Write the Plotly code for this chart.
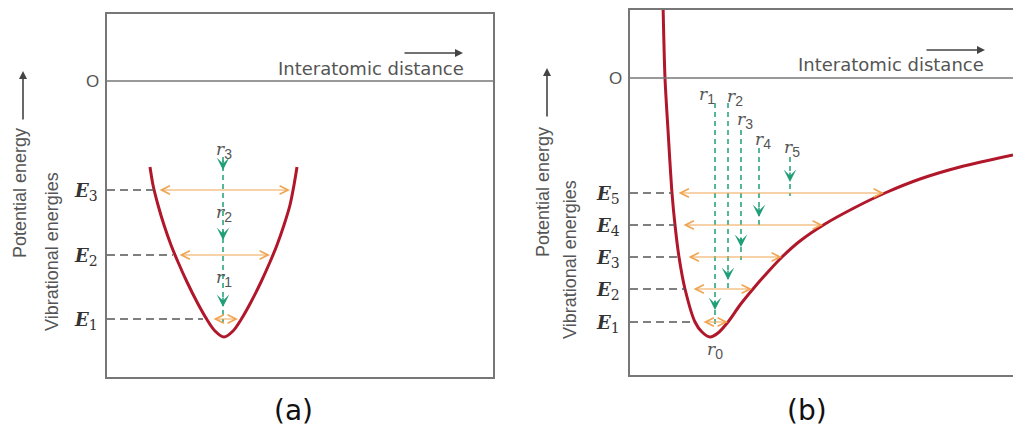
import plotly.graph_objects as go

W, H = 1013, 433

# ---------------- Panel (a): symmetric (harmonic-like) well ----------------
a_curve_d = [43, 46, 51, 57, 64, 71, 80, 90, 99, 108, 117, 126, 135, 144, 154, 163, 170, 177, 183, 187, 190]
a_curve_E = [-86, -104, -124, -144, -164, -181, -201, -221, -237, -250, -256, -250, -237, -221, -201, -181, -164, -144, -124, -104, -86]
a_level_names = ["1", "2", "3"]
a_level_E = [-238, -174, -109]
a_level_curve_left = [96, 66, 47]
a_osc_left = [105, 71, 51]
a_osc_right = [131, 163, 183]
a_r_d = 116
a_r_top, a_r_bottom = -76, -241
a_r_tips = [-226, -159, -89]
a_r_names = ["1", "2", "3"]
a_r_label_E = [-197, -132, -69]

# ---------------- Panel (b): anharmonic (Morse-like) well ----------------
b_curve_d = [33, 35, 38, 42, 45, 49, 55, 65, 72, 80, 88, 98, 110, 123, 137, 152, 170, 195, 224, 255, 290, 330, 383]
b_curve_E = [75, 0, -52, -115, -147, -179, -211, -244, -254, -259, -255, -244, -227, -211, -195, -179, -163, -146, -130, -115, -101, -89, -77]
b_level_names = ["1", "2", "3", "4", "5"]
b_level_E = [-244, -211, -179, -147, -115]
b_level_curve_left = [64, 55, 49, 45, 42]
b_osc_left = [72, 62, 57, 52, 47]
b_osc_right = [98, 122, 152, 193, 254]
b_r_names = ["1", "2", "3", "4", "5"]
b_r_d = [85, 98, 111, 129, 160]
b_r_top = [-25, -25, -52, -70, -79]
b_r_bottom = [-247, -214, -182, -150, -118]
b_r_tips = [-232, -202, -169, -139, -104]
b_r_label_d = [77, 105, 115, 133, 162]
b_r_label_E = [-17, -19, -42, -62, -70]
b_r0_d, b_r0_E = 85, -272

RED = "#b0172a"
ORANGE = "#f0a552"
GREEN = "#1f9e77"
GRAY = "#555555"
AXIS = "#777777"

fig = go.Figure()


def px(x):
    return x / W


def py(y):
    return 1 - y / H


def rlabel(n):
    return (f"<i>r</i><sub><span style='font-family:Liberation Sans;font-size:14px'>{n}</span></sub>")


def elabel(n):
    return (f"<b><i>E</i></b><sub><span style='font-family:DejaVu Serif;font-size:14px'>{n}</span></sub>")


def label(**kw):
    fig.add_annotation(showarrow=False, xanchor="center", yanchor="middle", **kw)


def add_panel(xa, ya, curve_d, curve_E, level_E, level_left, osc_l, osc_r):
    fig.add_trace(go.Scatter(x=curve_d, y=curve_E, mode="lines", xaxis=xa, yaxis=ya,
                             line=dict(color=RED, width=3, shape="spline", smoothing=0.8),
                             hoverinfo="skip", showlegend=False))
    for E, dl in zip(level_E, level_left):
        fig.add_trace(go.Scatter(x=[0, dl], y=[E, E], mode="lines", xaxis=xa, yaxis=ya,
                                 line=dict(color=GRAY, width=1.5, dash="8px,5px"),
                                 hoverinfo="skip", showlegend=False))
    for E, l, r in zip(level_E, osc_l, osc_r):
        fig.add_annotation(x=r, y=E, ax=l, ay=E, xref=xa, yref=ya, axref=xa, ayref=ya,
                           text="", showarrow=True, arrowside="end+start",
                           arrowhead=5, startarrowhead=5, arrowsize=1.4, startarrowsize=1.4,
                           arrowwidth=1.2, arrowcolor=ORANGE, standoff=0, startstandoff=0)


add_panel("x", "y", a_curve_d, a_curve_E, a_level_E, a_level_curve_left, a_osc_left, a_osc_right)
add_panel("x2", "y2", b_curve_d, b_curve_E, b_level_E, b_level_curve_left, b_osc_left, b_osc_right)


def green_arrow(xa, ya, d, tip):
    fig.add_annotation(x=d, y=tip, ax=d, ay=tip + 11, xref=xa, yref=ya, axref=xa, ayref=ya,
                       text="", showarrow=True, arrowhead=3, arrowsize=1.4, arrowwidth=1.5,
                       arrowcolor=GREEN, standoff=0)


# green dashed lines, panel a
fig.add_trace(go.Scatter(x=[a_r_d, a_r_d], y=[a_r_top, a_r_bottom], mode="lines", xaxis="x", yaxis="y",
                         line=dict(color=GREEN, width=1.5, dash="5px,4px"), hoverinfo="skip", showlegend=False))
for t in a_r_tips:
    green_arrow("x", "y", a_r_d, t)
for n, E in zip(a_r_names, a_r_label_E):
    label(x=a_r_d + 1, y=E, xref="x", yref="y", text=rlabel(n),
          font=dict(family="DejaVu Serif", size=17, color=GRAY))

# green dashed lines, panel b
for d, top, bot, tip in zip(b_r_d, b_r_top, b_r_bottom, b_r_tips):
    fig.add_trace(go.Scatter(x=[d, d], y=[top, bot], mode="lines", xaxis="x2", yaxis="y2",
                             line=dict(color=GREEN, width=1.5, dash="5px,4px"), hoverinfo="skip", showlegend=False))
    green_arrow("x2", "y2", d, tip)
for n, d, E in zip(b_r_names, b_r_label_d, b_r_label_E):
    label(x=d, y=E, xref="x2", yref="y2", text=rlabel(n),
          font=dict(family="DejaVu Serif", size=17, color=GRAY))
label(x=b_r0_d, y=b_r0_E, xref="x2", yref="y2", text=rlabel("0"),
      font=dict(family="DejaVu Serif", size=17, color=GRAY))

# energy level labels (left of each frame)
for n, E in zip(a_level_names, a_level_E):
    label(x=px(86), y=E - 2, xref="paper", yref="y", text=elabel(n),
          font=dict(family="DejaVu Serif", size=18, color="#333333"))
for n, E in zip(b_level_names, b_level_E):
    label(x=px(608), y=E - 2, xref="paper", yref="y2", text=elabel(n),
          font=dict(family="DejaVu Serif", size=18, color="#333333"))

# zero labels and zero lines
label(x=px(92), y=0, xref="paper", yref="y", text="O",
      font=dict(family="Liberation Sans", size=17, color=GRAY))
label(x=px(615), y=0, xref="paper", yref="y2", text="O",
      font=dict(family="Liberation Sans", size=17, color=GRAY))
fig.add_shape(type="line", xref="x domain", yref="y", x0=0, x1=1, y0=0, y1=0,
              line=dict(color=AXIS, width=1.5))
fig.add_shape(type="line", xref="x2 domain", yref="y2", x0=0, x1=1, y0=0, y1=0,
              line=dict(color=AXIS, width=1.5))

# "Interatomic distance" labels with arrows
for cx, cy, tipx, tipy in [(371, 68, 463, 53), (891, 64, 985, 50)]:
    label(x=px(cx), y=py(cy), xref="paper", yref="paper", text="Interatomic distance",
          font=dict(family="DejaVu Sans", size=18, color=GRAY))
    fig.add_annotation(x=px(tipx), y=py(tipy), xref="paper", yref="paper", ax=-60, ay=0,
                       text="", showarrow=True, arrowhead=2, arrowsize=1.0, arrowwidth=1.6,
                       arrowcolor="#444444", standoff=0)

# vertical axis titles
for xp, yp, xv, yv, xarr, tipy in [(20, 193, 52, 252, 23, 71), (543, 192, 570, 260, 547, 68)]:
    label(x=px(xp), y=py(yp), xref="paper", yref="paper", text="Potential energy", textangle=-90,
          font=dict(family="Liberation Sans", size=18, color=GRAY))
    label(x=px(xv), y=py(yv), xref="paper", yref="paper", text="Vibrational energies", textangle=-90,
          font=dict(family="Liberation Sans", size=18, color=GRAY))
    fig.add_annotation(x=px(xarr), y=py(tipy), xref="paper", yref="paper", ax=0, ay=50,
                       text="", showarrow=True, arrowhead=2, arrowsize=1.0, arrowwidth=1.6,
                       arrowcolor="#444444", standoff=0)

# panel captions
label(x=px(293), y=py(410), xref="paper", yref="paper", text="(a)",
      font=dict(family="DejaVu Sans", size=28, color="#111111"))
label(x=px(807), y=py(410), xref="paper", yref="paper", text="(b)",
      font=dict(family="DejaVu Sans", size=28, color="#111111"))

common = dict(showgrid=False, zeroline=False, showticklabels=False, ticks="",
              showline=True, linecolor=AXIS, linewidth=2, fixedrange=True)
fig.update_layout(
    width=W, height=H, margin=dict(l=0, r=0, t=0, b=0),
    paper_bgcolor="white", plot_bgcolor="white", showlegend=False,
    xaxis=dict(domain=[px(107), px(493)], range=[0, 386], mirror=True, anchor="y", **common),
    yaxis=dict(domain=[py(377), py(14)], range=[-296, 67], mirror=True, anchor="x", **common),
    xaxis2=dict(domain=[px(630), 1.0], range=[0, 383], mirror=True, anchor="y2", **common),
    yaxis2=dict(domain=[py(375), py(10)], range=[-297, 68], mirror=False, anchor="x2", **common),
)

fig.write_html("out.html", config={"displayModeBar": False},
               post_script="document.body.style.margin='0';document.body.style.padding='0';")
